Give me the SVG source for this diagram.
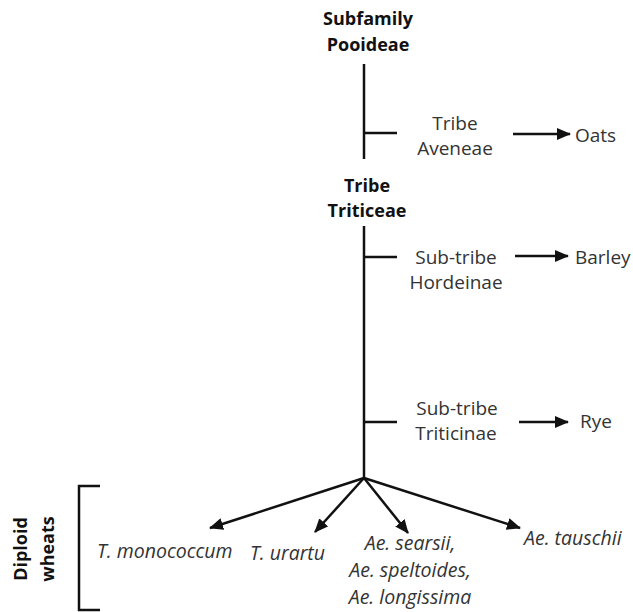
<svg xmlns="http://www.w3.org/2000/svg" width="633" height="612" viewBox="0 0 633 612">
<defs>
<marker id="ah" markerUnits="userSpaceOnUse" markerWidth="14" markerHeight="12" refX="13" refY="6" orient="auto">
<path d="M0,0 L14,6 L0,12 Z" fill="#111"/>
</marker>
<style>
.t{font-family:"Open Sans","Liberation Sans",sans-serif;font-size:19px;fill:#333;text-anchor:middle}
.b{font-weight:bold;fill:#111;font-size:18px}
.i{font-style:italic;font-size:19.5px}
.s{text-anchor:start}
.ln{stroke:#111;stroke-width:2.5;fill:none}
.ar{stroke:#111;stroke-width:2.5;fill:none;marker-end:url(#ah)}
</style>
</defs>
<rect width="633" height="612" fill="#fff"/>
<g id="connectors">
<line class="ln" x1="364" y1="64" x2="364" y2="159"/>
<line class="ln" x1="364" y1="133" x2="397" y2="133"/>
<line class="ar" x1="513" y1="134" x2="570" y2="134"/>
<line class="ln" x1="364" y1="226" x2="364" y2="478"/>
<line class="ln" x1="364" y1="257" x2="397" y2="257"/>
<line class="ar" x1="515" y1="256" x2="568" y2="256"/>
<line class="ln" x1="364" y1="422" x2="397" y2="422"/>
<line class="ar" x1="519" y1="422" x2="568" y2="422"/>
<line class="ar" x1="364" y1="478" x2="210" y2="528"/>
<line class="ar" x1="364" y1="478" x2="315" y2="532"/>
<line class="ar" x1="364" y1="478" x2="408" y2="533"/>
<line class="ar" x1="364" y1="478" x2="520" y2="528"/>
<path class="ln" d="M100,486 H79 V610 H100"/>
</g>
<g id="pooideae"><text class="t b" x="368" y="25">Subfamily</text><text class="t b" x="368" y="51">Pooideae</text></g>
<g id="aveneae"><text class="t" x="455" y="130">Tribe</text><text class="t" x="455" y="155">Aveneae</text></g>
<g id="oats"><text class="t s" x="575" y="142">Oats</text></g>
<g id="triticeae"><text class="t b" x="367" y="192">Tribe</text><text class="t b" x="367" y="217">Triticeae</text></g>
<g id="hordeinae"><text class="t" x="456" y="264">Sub-tribe</text><text class="t" x="456" y="289">Hordeinae</text></g>
<g id="barley"><text class="t s" x="575" y="264">Barley</text></g>
<g id="triticinae"><text class="t" x="457" y="415">Sub-tribe</text><text class="t" x="456" y="440">Triticinae</text></g>
<g id="rye"><text class="t s" x="580" y="428">Rye</text></g>
<g id="monococcum"><text class="t i s" x="97" y="558">T. monococcum</text></g>
<g id="urartu"><text class="t i s" x="250" y="560">T. urartu</text></g>
<g id="aegilops"><text class="t i" x="410" y="550">Ae. searsii,</text><text class="t i" x="410" y="577">Ae. speltoides,</text><text class="t i" x="410" y="604">Ae. longissima</text></g>
<g id="tauschii"><text class="t i s" x="524" y="545">Ae. tauschii</text></g>
<g id="diploid"><text class="t b" transform="translate(27,549) rotate(-90)">Diploid</text><text class="t b" transform="translate(54,549) rotate(-90)">wheats</text></g>
</svg>
